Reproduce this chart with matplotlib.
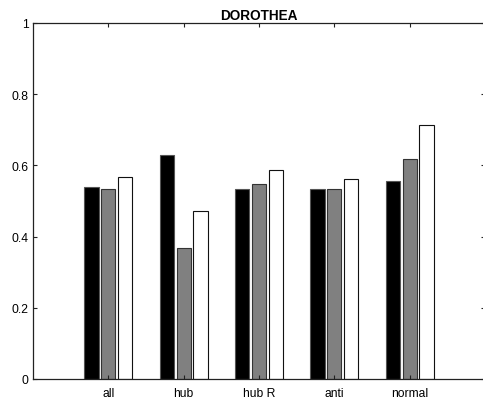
import numpy as np
import matplotlib
matplotlib.use('Agg')
import matplotlib.pyplot as plt

plt.rcParams['font.family'] = ['Liberation Sans', 'DejaVu Sans']

categories = ['all', 'hub', 'hub R', 'anti', 'normal']
series_black = [0.538, 0.628, 0.535, 0.535, 0.556]
series_gray = [0.535, 0.368, 0.549, 0.535, 0.618]
series_white = [0.568, 0.471, 0.586, 0.562, 0.713]
ytick_vals = [0, 0.2, 0.4, 0.6, 0.8, 1]
ytick_labels = ['0', '0.2', '0.4', '0.6', '0.8', '1']

fig = plt.figure(figsize=(4.83, 4.02), dpi=100)
ax = fig.add_axes([33/483, 22/402, 452/483, 356/402])

x = np.arange(1, len(categories) + 1)
w = 0.19
off = 0.222
ax.bar(x - off, series_black, w, color='black', edgecolor='#555555', linewidth=0.8)
ax.bar(x, series_gray, w, color='#808080', edgecolor='#333333', linewidth=0.8)
ax.bar(x + off, series_white, w, color='white', edgecolor='#111111', linewidth=0.8)

ax.set_xlim(0, 6)
ax.set_ylim(0, 1)
ax.set_xticks(x)
ax.set_xticklabels(categories)
ax.set_yticks(ytick_vals)
ax.set_yticklabels(ytick_labels)
ax.tick_params(direction='in', top=True, right=True, labelsize=8.7, length=3,
               width=0.8, color='#222222', pad=3)
ax.tick_params(axis='x', pad=6)
for s in ax.spines.values():
    s.set_linewidth(0.9)
    s.set_color('#222222')
ax.set_title('DOROTHEA', fontsize=9.8, fontweight='bold', pad=3)

fig.savefig('out.png', dpi=100)
